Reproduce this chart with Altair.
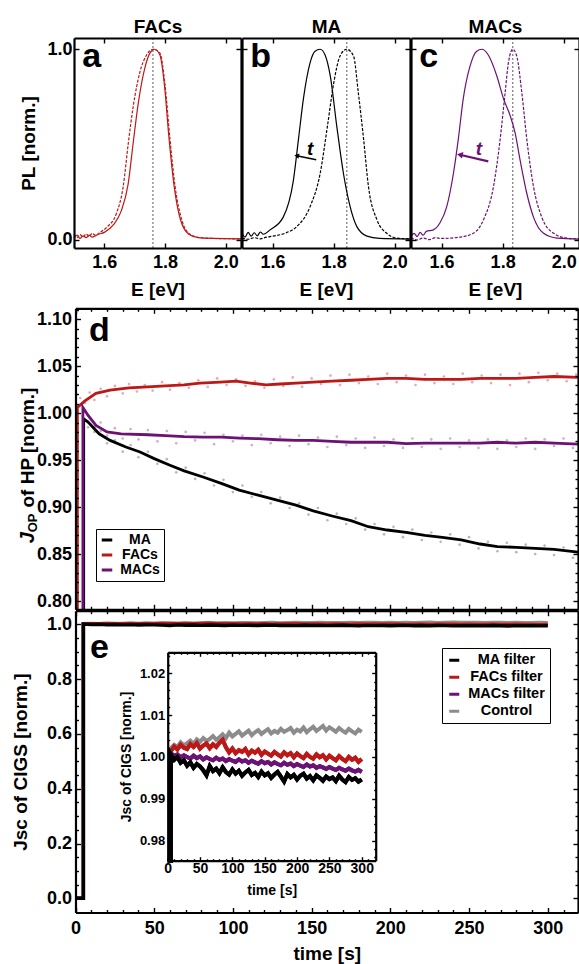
import altair as alt
import pandas as pd

W, H = 579, 964
FONT = "Liberation Sans"
RED = "#bd1818"
PURPLE = "#6c1274"
GREY = "#8c8c8c"

# ---------------- panels a-c : PL spectra ----------------
PANEL_TITLES = ["FACs", "MA", "MACs"]
TOP_LETTERS = ["a", "b", "c"]
E_TICKS = [1.6, 1.8, 2.0]
PL_TICKS = [0.0, 1.0]
PEAK_E = [1.76, 1.843, 1.833]

a_dash_E = [1.50, 1.51, 1.52, 1.53, 1.54, 1.55, 1.56, 1.57, 1.586, 1.61, 1.64, 1.662, 1.679, 1.695,
            1.717, 1.739, 1.761, 1.783, 1.80, 1.816, 1.833, 1.855, 1.882, 1.915, 1.96, 2.05]
a_dash_PL = [0.030, 0.012, 0.028, 0.015, 0.032, 0.018, 0.035, 0.025, 0.04, 0.07, 0.14, 0.28, 0.51, 0.70,
             0.88, 0.97, 1.0, 0.98, 0.81, 0.53, 0.28, 0.105, 0.03, 0.012, 0.008, 0.006]
a_solid_E = [1.50, 1.51, 1.52, 1.53, 1.54, 1.55, 1.56, 1.58, 1.60, 1.63, 1.655, 1.678, 1.695, 1.711,
             1.733, 1.75, 1.765, 1.783, 1.798, 1.812, 1.83, 1.85, 1.878, 1.91, 1.96, 2.05]
a_solid_PL = [0.010, 0.025, 0.008, 0.022, 0.012, 0.026, 0.015, 0.03, 0.04, 0.08, 0.15, 0.29, 0.51, 0.71,
              0.90, 0.98, 1.0, 0.97, 0.81, 0.55, 0.28, 0.11, 0.03, 0.012, 0.008, 0.006]
b_dash_E = [1.50, 1.52, 1.54, 1.56, 1.58, 1.60, 1.64, 1.679, 1.723, 1.756, 1.78, 1.80, 1.821, 1.843,
            1.865, 1.881, 1.898, 1.914, 1.942, 1.974, 2.007, 2.05]
b_dash_PL = [0.010, 0.004, 0.012, 0.006, 0.015, 0.02, 0.035, 0.07, 0.175, 0.35, 0.60, 0.82, 0.965, 1.0,
             0.965, 0.77, 0.53, 0.28, 0.105, 0.035, 0.01, 0.006]
b_solid_E = [1.50, 1.51, 1.52, 1.53, 1.54, 1.55, 1.56, 1.57, 1.592, 1.635, 1.668, 1.685, 1.701, 1.723,
             1.739, 1.756, 1.772, 1.789, 1.81, 1.832, 1.854, 1.876, 1.909, 1.95, 2.05]
b_solid_PL = [0.035, 0.015, 0.04, 0.02, 0.038, 0.022, 0.042, 0.03, 0.053, 0.12, 0.31, 0.53, 0.74, 0.93,
              0.99, 1.0, 0.97, 0.86, 0.60, 0.35, 0.175, 0.07, 0.02, 0.008, 0.005]
c_dash_E = [1.50, 1.52, 1.54, 1.56, 1.58, 1.60, 1.66, 1.704, 1.737, 1.77, 1.792, 1.808, 1.819, 1.833,
            1.846, 1.863, 1.879, 1.901, 1.928, 1.967, 2.01, 2.05]
c_dash_PL = [0.012, 0.0, 0.01, 0.002, 0.012, 0.008, 0.015, 0.035, 0.105, 0.28, 0.53, 0.77, 0.93, 1.0,
             0.965, 0.77, 0.53, 0.28, 0.12, 0.035, 0.01, 0.006]
c_solid_E = [1.50, 1.51, 1.52, 1.53, 1.54, 1.55, 1.573, 1.595, 1.617, 1.639, 1.655, 1.671, 1.693, 1.715,
             1.732, 1.753, 1.781, 1.803, 1.825, 1.841, 1.857, 1.879, 1.901, 1.934, 1.978, 2.05]
c_solid_PL = [0.02, 0.035, 0.018, 0.04, 0.025, 0.045, 0.053, 0.09, 0.175, 0.35, 0.53, 0.74, 0.91, 0.99,
              1.0, 0.97, 0.86, 0.74, 0.65, 0.56, 0.42, 0.245, 0.12, 0.035, 0.01, 0.005]

ARROW_E = {1: [1.743, 1.679], 2: [1.753, 1.66]}
ARROW_PL = {1: [0.421, 0.442], 2: [0.412, 0.447]}
T_LABEL_E = {1: 1.723, 2: 1.722}
T_LABEL_PL = 0.477

# ---------------- panel d : J_OP of HP ----------------
D_SERIES = ["MA", "FACs", "MACs"]
d_red_t = [1.2, 1.2, 6, 13, 22, 34, 46, 57, 69, 79, 92, 102, 111, 121, 130, 140, 151, 163, 175, 186,
           198, 210, 222, 233, 245, 257, 268, 280, 292, 304, 319.2]
d_red_v = [0.70, 1.006, 1.013, 1.021, 1.0245, 1.027, 1.028, 1.029, 1.030, 1.032, 1.033, 1.034, 1.032,
           1.030, 1.031, 1.032, 1.033, 1.034, 1.035, 1.036, 1.037, 1.037, 1.036, 1.036, 1.036, 1.037,
           1.037, 1.037, 1.038, 1.039, 1.038]
d_pur_t = [4.7, 4.7, 8, 13, 20, 29, 46, 57, 69, 81, 93, 104, 116, 128, 140, 151, 163, 175, 186, 198,
           210, 222, 233, 245, 257, 268, 280, 292, 304, 319.2]
d_pur_v = [0.70, 1.006, 0.9975, 0.987, 0.980, 0.978, 0.977, 0.976, 0.975, 0.9745, 0.9745, 0.9735,
           0.9728, 0.9717, 0.971, 0.971, 0.970, 0.969, 0.969, 0.969, 0.9675, 0.968, 0.968, 0.968,
           0.968, 0.969, 0.968, 0.969, 0.968, 0.967]
d_blk_t = [5.2, 5.2, 8, 15, 22, 32, 41, 50, 60, 69, 81, 93, 104, 116, 128, 140, 151, 163, 175, 186,
           198, 210, 222, 233, 245, 257, 268, 280, 292, 304, 319.2]
d_blk_v = [0.70, 0.994, 0.9904, 0.978, 0.971, 0.964, 0.9586, 0.9516, 0.9445, 0.9385, 0.932, 0.925,
           0.918, 0.9127, 0.9074, 0.902, 0.896, 0.8905, 0.8855, 0.8791, 0.8756, 0.873, 0.870, 0.8678,
           0.865, 0.8607, 0.8579, 0.8572, 0.856, 0.855, 0.852]

dot_red_t = [3, 6, 9, 12, 16, 20, 25, 30, 34, 39, 44, 49, 55, 60, 66, 72, 78, 84, 90, 96,
             102, 108, 114, 120, 126, 132, 138, 144, 150, 156, 162, 168, 174, 180, 186, 192, 198, 204,
             210, 216, 222, 228, 234, 240, 246, 252, 258, 264, 270, 276, 282, 288, 294, 300, 306, 312, 318]
dot_red_v = [1.016, 1.011, 1.022, 1.014, 1.026, 1.018, 1.029, 1.021, 1.031, 1.023,
             1.030, 1.024, 1.033, 1.025, 1.032, 1.027, 1.035, 1.028, 1.037, 1.030,
             1.036, 1.029, 1.034, 1.027, 1.036, 1.029, 1.038, 1.028, 1.037, 1.031,
             1.040, 1.030, 1.041, 1.032, 1.039, 1.031, 1.042, 1.033, 1.040, 1.030,
             1.041, 1.032, 1.039, 1.031, 1.042, 1.033, 1.040, 1.032, 1.041, 1.030,
             1.042, 1.033, 1.043, 1.035, 1.042, 1.034, 1.041]
dot_t = [8, 12, 16, 20, 25, 30, 35, 40, 46, 52, 58, 64, 70, 76, 82, 88, 94, 100, 106, 112,
         118, 124, 130, 136, 142, 148, 154, 160, 166, 172, 178, 184, 190, 196, 202, 208, 214, 220,
         226, 232, 238, 244, 250, 256, 262, 268, 274, 280, 286, 292, 298, 304, 310, 316]
dot_pur_v = [0.998, 0.985, 0.990, 0.976, 0.984, 0.973, 0.983, 0.972, 0.982, 0.970,
             0.981, 0.968, 0.980, 0.971, 0.979, 0.967, 0.977, 0.970, 0.976, 0.966,
             0.977, 0.968, 0.975, 0.965, 0.976, 0.967, 0.974, 0.964, 0.975, 0.966,
             0.973, 0.963, 0.974, 0.965, 0.972, 0.963, 0.973, 0.964, 0.972, 0.962,
             0.973, 0.964, 0.971, 0.963, 0.972, 0.962, 0.971, 0.964, 0.973, 0.962,
             0.972, 0.965, 0.973, 0.963]
dot_blk_v = [0.985, 0.980, 0.981, 0.968, 0.971, 0.959, 0.966, 0.953, 0.959, 0.946,
             0.951, 0.937, 0.942, 0.930, 0.936, 0.923, 0.929, 0.916, 0.923, 0.911,
             0.916, 0.904, 0.910, 0.899, 0.904, 0.892, 0.899, 0.886, 0.893, 0.882,
             0.888, 0.876, 0.882, 0.871, 0.879, 0.868, 0.876, 0.865, 0.873, 0.863,
             0.871, 0.860, 0.868, 0.856, 0.863, 0.853, 0.862, 0.852, 0.860, 0.850,
             0.859, 0.849, 0.857, 0.846]

# ---------------- panel e : Jsc of CIGS ----------------
E_SERIES = ["MA filter", "FACs filter", "MACs filter", "Control"]
e_t = list(range(5, 301, 5))
e_control = [1.0021, 1.0029, 1.0024, 1.0035, 1.0028, 1.0033, 1.0039, 1.0031, 1.0042, 1.0036,
             1.0045, 1.0038, 1.0043, 1.0050, 1.0041, 1.0047, 1.0054, 1.0045, 1.0058, 1.0049,
             1.0055, 1.0061, 1.0051, 1.0057, 1.0063, 1.0052, 1.0059, 1.0064, 1.0055, 1.0061,
             1.0066, 1.0056, 1.0062, 1.0058, 1.0067, 1.0060, 1.0064, 1.0069, 1.0058, 1.0065,
             1.0061, 1.0070, 1.0059, 1.0066, 1.0072, 1.0062, 1.0068, 1.0074, 1.0063, 1.0071,
             1.0066, 1.0060, 1.0069, 1.0063, 1.0058, 1.0067, 1.0061, 1.0056, 1.0065, 1.0060]
e_facs = [1.0014, 1.0025, 1.0018, 1.0029, 1.0022, 1.0019, 1.0031, 1.0024, 1.0033, 1.0020,
          1.0027, 1.0032, 1.0021, 1.0030, 1.0024, 1.0034, 1.0041, 1.0023, 1.0011, 1.0020,
          1.0009, 1.0016, 1.0012, 1.0019, 1.0006, 1.0015, 1.0010, 1.0017, 1.0005, 1.0013,
          1.0008, 1.0003, 1.0012, 1.0006, 1.0001, 1.0011, 1.0004, 1.0009, 0.9999, 1.0008,
          1.0002, 0.9997, 1.0007, 1.0000, 0.9996, 1.0006, 0.9999, 1.0004, 0.9994, 1.0003,
          0.9997, 0.9992, 1.0002, 0.9995, 0.9990, 1.0000, 0.9993, 0.9998, 0.9988, 0.9995]
e_macs = [1.0009, 1.0002, 1.0006, 0.9999, 1.0004, 1.0000, 0.9996, 1.0003, 0.9997, 1.0001,
          0.9994, 0.9999, 0.9995, 0.9992, 0.9998, 0.9993, 0.9996, 0.9990, 0.9995, 0.9991,
          0.9988, 0.9994, 0.9989, 0.9992, 0.9986, 0.9991, 0.9987, 0.9984, 0.9990, 0.9985,
          0.9988, 0.9982, 0.9987, 0.9983, 0.9980, 0.9986, 0.9981, 0.9984, 0.9978, 0.9983,
          0.9979, 0.9976, 0.9982, 0.9977, 0.9980, 0.9974, 0.9978, 0.9975, 0.9971, 0.9976,
          0.9972, 0.9969, 0.9974, 0.9970, 0.9967, 0.9972, 0.9968, 0.9965, 0.9969, 0.9964]
e_ma = [1.0006, 0.9993, 1.0000, 0.9986, 0.9992, 0.9979, 0.9987, 0.9974, 0.9983, 0.9977,
        0.9968, 0.9956, 0.9978, 0.9966, 0.9972, 0.9961, 0.9975, 0.9964, 0.9958, 0.9970,
        0.9960, 0.9967, 0.9955, 0.9963, 0.9969, 0.9957, 0.9962, 0.9952, 0.9965, 0.9956,
        0.9961, 0.9950, 0.9958, 0.9964, 0.9953, 0.9941, 0.9959, 0.9951, 0.9957, 0.9946,
        0.9955, 0.9960, 0.9948, 0.9954, 0.9944, 0.9956, 0.9950, 0.9943, 0.9953, 0.9947,
        0.9951, 0.9942, 0.9955, 0.9946, 0.9940, 0.9952, 0.9945, 0.9949, 0.9941, 0.9946]
e_step_t = [0, 5]
e_step_v = [0.0, 0.0]

# ---------------- ticks ----------------
T_MAJ = [0, 50, 100, 150, 200, 250, 300]
T_MIN = [v for v in range(10, 320, 10) if v % 50]
D_MAJ = [0.80, 0.85, 0.90, 0.95, 1.00, 1.05, 1.10]
D_MIN = [round(0.80 + 0.01 * k, 2) for k in range(0, 32) if k % 5]
J_MAJ = [0.0, 0.2, 0.4, 0.6, 0.8, 1.0]
J_MIN = [round(0.05 * k, 2) for k in range(1, 21) if k % 4]
I_MAJ = [0.98, 0.99, 1.00, 1.01, 1.02]
I_MIN = [round(0.976 + 0.002 * k, 3) for k in range(0, 25) if round(0.976 + 0.002 * k, 3) not in I_MAJ]

# ---------------- geometry (pixel ranges of each frame) ----------------
E_DOM, PL_DOM = (1.5, 2.05), (-0.042, 1.059)
TOP_X = [(74, 241), (242, 410), (411, 579)]
TOP_Y = (248, 38)
T_DOM, T_RNG = (0, 319.2), (75.5, 578)
D_DOM, D_RNG = (0.7912, 1.1116), (609.3, 308.3)
J_DOM, J_RNG = (-0.0518, 1.0496), (912.5, 610.7)
IT_DOM, IT_RNG = (0, 321.6), (167.7, 375.7)
IY_DOM, IY_RNG = (0.9752, 1.025), (860.7, 652.3)


def S(dom, rng, clamp=False):
    kw = dict(domain=list(dom), range=list(rng), nice=False, zero=False)
    if clamp:
        kw["clamp"] = True
    return alt.Scale(**kw)


def axis(orient, offset, values, labels=False, fmt=None, title=None, tick=5, tick_w=1.4,
         domain=True, lsize=18, tsize=19, gap=2, tpad=6):
    kw = dict(orient=orient, offset=offset, values=values, labels=labels, grid=False,
              domain=domain, domainColor="black", domainWidth=2.2,
              ticks=True, tickColor="black", tickWidth=tick_w, tickSize={"expr": str(-tick)},
              labelFont=FONT, labelFontSize=lsize, labelFontWeight="bold", labelColor="black",
              labelPadding=gap + tick, labelFlush=False, labelOverlap=False,
              titleFont=FONT, titleFontSize=tsize, titleFontWeight="bold", titleColor="black",
              titlePadding=tpad, title=title, zindex=2)
    if fmt:
        kw["format"] = fmt
    return alt.Axis(**kw)


def frame(xd, yd, xr, yr, bottom=None, left=None, top=None, right=None):
    df = pd.DataFrame({"x": list(xd), "y": list(yd)})
    xs, ys = S(xd, xr), S(yd, yr)
    offs = {"bottom": yr[0] - H, "top": -yr[1], "left": -xr[0], "right": xr[1] - W}
    out = []
    for xa, xo, ya, yo in [(bottom, "bottom", left, "left"), (top, "top", right, "right")]:
        if xa is None and ya is None:
            continue
        out.append(alt.Chart(df).mark_point(opacity=0).encode(
            x=alt.X("x:Q", scale=xs, axis=axis(xo, offs[xo], **xa) if xa is not None else None),
            y=alt.Y("y:Q", scale=ys, axis=axis(yo, offs[yo], **ya) if ya is not None else None)))
    return out


layers = []

# ================= top row =================
curves = [[(a_dash_E, a_dash_PL, True), (a_solid_E, a_solid_PL, False)],
          [(b_dash_E, b_dash_PL, True), (b_solid_E, b_solid_PL, False)],
          [(c_dash_E, c_dash_PL, True), (c_solid_E, c_solid_PL, False)]]
top_colors = [RED, "black", PURPLE]

for k in range(3):
    xs, ys = S(E_DOM, TOP_X[k]), S(PL_DOM, TOP_Y)
    X = lambda f: alt.X(f, scale=xs, axis=None)
    Y = lambda f: alt.Y(f, scale=ys, axis=None)
    layers.append(alt.Chart(pd.DataFrame({"E": [PEAK_E[k]], "lo": [PL_DOM[0]], "hi": [PL_DOM[1]]}))
                  .mark_rule(color="#8a8a8a", strokeDash=[2, 2], strokeWidth=1.4)
                  .encode(x=X("E:Q"), y=Y("lo:Q"), y2="hi:Q"))
    for E, P, dashed in curves[k]:
        kw = dict(color=top_colors[k], strokeWidth=1.2, interpolate="monotone")
        if dashed:
            kw["strokeDash"] = [3, 1.5]
        layers.append(alt.Chart(pd.DataFrame({"E": E, "PL": P})).mark_line(**kw)
                      .encode(x=X("E:Q"), y=Y("PL:Q")))
    layers.append(alt.Chart(pd.DataFrame({"E": [1.527], "v": [0.905], "s": [TOP_LETTERS[k]]}))
                  .mark_text(font=FONT, fontSize=34, fontWeight="bold", align="left",
                             baseline="alphabetic", color="black")
                  .encode(x=X("E:Q"), y=Y("v:Q"), text="s:N"))
    if k in ARROW_E:
        col = top_colors[k]
        layers.append(alt.Chart(pd.DataFrame({"E": ARROW_E[k], "v": ARROW_PL[k]}))
                      .mark_line(color=col, strokeWidth=1.5 if k == 1 else 2.2)
                      .encode(x=X("E:Q"), y=Y("v:Q")))
        layers.append(alt.Chart(pd.DataFrame({"E": [ARROW_E[k][1]], "v": [ARROW_PL[k][1]]}))
                      .mark_point(shape="triangle-left", filled=True, size=30 if k == 1 else 45,
                                  angle=12, color=col, opacity=1)
                      .encode(x=X("E:Q"), y=Y("v:Q")))
        layers.append(alt.Chart(pd.DataFrame({"E": [T_LABEL_E[k]], "v": [T_LABEL_PL], "s": ["t"]}))
                      .mark_text(font=FONT, fontSize=19, fontWeight="bold", fontStyle="italic",
                                 color=col, align="center", baseline="middle")
                      .encode(x=X("E:Q"), y=Y("v:Q"), text="s:N"))
    left = (dict(values=PL_TICKS, labels=True, fmt=".1f", title="PL [norm.]", tpad=8)
            if k == 0 else dict(values=PL_TICKS))
    layers += frame(E_DOM, PL_DOM, TOP_X[k], TOP_Y,
                    bottom=dict(values=E_TICKS, labels=True, fmt=".1f", title="E [eV]", gap=5, tpad=9),
                    left=left,
                    top=dict(values=E_TICKS, title=PANEL_TITLES[k], tpad=1),
                    right=dict(values=PL_TICKS))

# ================= panel d =================
xs, ys = S(T_DOM, T_RNG), S(D_DOM, D_RNG, clamp=True)
dots = pd.concat([
    pd.DataFrame({"t": dot_t, "v": dot_blk_v, "s": "MA"}),
    pd.DataFrame({"t": dot_red_t, "v": dot_red_v, "s": "FACs"}),
    pd.DataFrame({"t": dot_t, "v": dot_pur_v, "s": "MACs"}),
])
layers.append(alt.Chart(dots).mark_circle(size=7, opacity=1).encode(
    x=alt.X("t:Q", scale=xs, axis=None), y=alt.Y("v:Q", scale=ys, axis=None),
    color=alt.Color("s:N", scale=alt.Scale(domain=D_SERIES, range=["#b8b8b8", "#eba9a9", "#d2acd8"]),
                    legend=None)))
dl = []
for name, tt, vv in [("MA", d_blk_t, d_blk_v), ("FACs", d_red_t, d_red_v), ("MACs", d_pur_t, d_pur_v)]:
    dl.append(pd.DataFrame({"t": tt, "v": vv, "s": name, "i": list(range(len(tt)))}))
legend_kw = dict(orient="none", title=None, strokeColor="black", fillColor="white",
                 labelFont=FONT, labelFontWeight="bold", labelColor="black", labelAlign="center",
                 symbolType="stroke", symbolStrokeWidth=3)
layers.append(alt.Chart(pd.concat(dl)).mark_line(strokeWidth=2.8).encode(
    x=alt.X("t:Q", scale=xs, axis=None), y=alt.Y("v:Q", scale=ys, axis=None),
    order="i:Q",
    color=alt.Color("s:N", scale=alt.Scale(domain=D_SERIES, range=["black", RED, PURPLE]),
                    legend=alt.Legend(legendX=96, legendY=529, padding=4, rowPadding=1,
                                      labelFontSize=14, labelOffset=26, symbolSize=110, **legend_kw))))
# panel-d letter and y title
xs_free, ys_free = S(T_DOM, T_RNG), S(D_DOM, D_RNG)
layers.append(alt.Chart(pd.DataFrame({"t": [8.6], "v": [1.077], "s": ["d"]}))
              .mark_text(font=FONT, fontSize=34, fontWeight="bold", align="left", baseline="alphabetic")
              .encode(x=alt.X("t:Q", scale=xs_free, axis=None), y=alt.Y("v:Q", scale=ys_free, axis=None),
                      text="s:N"))
layers.append(alt.Chart(pd.DataFrame({"t": [-30.2], "v": [0.8614], "s": ["J"]}))
              .mark_text(font=FONT, fontSize=20, fontWeight="bold", fontStyle="italic", angle=270,
                         align="left", baseline="middle")
              .encode(x=alt.X("t:Q", scale=xs_free, axis=None), y=alt.Y("v:Q", scale=ys_free, axis=None),
                      text="s:N"))
layers.append(alt.Chart(pd.DataFrame({"t": [-26.8], "v": [0.8731], "s": ["OP"]}))
              .mark_text(font=FONT, fontSize=13, fontWeight="bold", angle=270,
                         align="left", baseline="middle")
              .encode(x=alt.X("t:Q", scale=xs_free, axis=None), y=alt.Y("v:Q", scale=ys_free, axis=None),
                      text="s:N"))
layers.append(alt.Chart(pd.DataFrame({"t": [-30.2], "v": [0.8995], "s": ["of HP [norm.]"]}))
              .mark_text(font=FONT, fontSize=19, fontWeight="bold", angle=270,
                         align="left", baseline="middle")
              .encode(x=alt.X("t:Q", scale=xs_free, axis=None), y=alt.Y("v:Q", scale=ys_free, axis=None),
                      text="s:N"))
layers += frame(T_DOM, D_DOM, T_RNG, D_RNG,
                bottom=dict(values=T_MAJ), left=dict(values=D_MAJ, labels=True, fmt=".2f", gap=4),
                top=dict(values=T_MAJ), right=dict(values=D_MAJ))
layers += frame(T_DOM, D_DOM, T_RNG, D_RNG,
                bottom=dict(values=T_MIN, tick=3, domain=False), left=dict(values=D_MIN, tick=3, domain=False),
                top=dict(values=T_MIN, tick=3, domain=False), right=dict(values=D_MIN, tick=3, domain=False))

# ================= panel e =================
series_vals = {"MA filter": e_ma, "FACs filter": e_facs, "MACs filter": e_macs, "Control": e_control}
series_col = {"MA filter": "black", "FACs filter": RED, "MACs filter": PURPLE, "Control": GREY}


def e_df(name):
    tt = e_step_t + e_t
    vv = e_step_v + series_vals[name]
    return pd.DataFrame({"t": tt, "v": vv, "s": name, "i": list(range(len(tt)))})


xs, ys = S(T_DOM, T_RNG), S(J_DOM, J_RNG)
for name in ["Control", "MACs filter", "FACs filter", "MA filter"]:
    layers.append(alt.Chart(e_df(name)).mark_line(color=series_col[name], strokeWidth=3.4).encode(
        x=alt.X("t:Q", scale=xs, axis=None), y=alt.Y("v:Q", scale=ys, axis=None), order="i:Q"))
layers.append(alt.Chart(pd.DataFrame({"t": [9.2], "v": [0.876], "s": ["e"]}))
              .mark_text(font=FONT, fontSize=34, fontWeight="bold", align="left", baseline="alphabetic")
              .encode(x=alt.X("t:Q", scale=xs, axis=None), y=alt.Y("v:Q", scale=ys, axis=None), text="s:N"))
layers += frame(T_DOM, J_DOM, T_RNG, J_RNG,
                bottom=dict(values=T_MAJ, labels=True, fmt="d", title="time [s]", gap=7, tpad=7),
                left=dict(values=J_MAJ, labels=True, fmt=".1f", title="Jsc of CIGS [norm.]", gap=4, tpad=16),
                top=dict(values=T_MAJ), right=dict(values=J_MAJ))
layers += frame(T_DOM, J_DOM, T_RNG, J_RNG,
                bottom=dict(values=T_MIN, tick=3, domain=False), left=dict(values=J_MIN, tick=3, domain=False),
                top=dict(values=T_MIN, tick=3, domain=False), right=dict(values=J_MIN, tick=3, domain=False))

# ---- inset ----
xs, ys = S(IT_DOM, IT_RNG), S(IY_DOM, IY_RNG, clamp=True)
all_e = pd.concat([e_df(n) for n in ["Control", "MACs filter", "FACs filter", "MA filter"]])
layers.append(alt.Chart(all_e).mark_line(strokeWidth=4).encode(
    x=alt.X("t:Q", scale=xs, axis=None), y=alt.Y("v:Q", scale=ys, axis=None),
    detail="s:N", order="i:Q",
    color=alt.Color("s:N", scale=alt.Scale(domain=E_SERIES, range=["black", RED, PURPLE, GREY]),
                    legend=alt.Legend(legendX=442, legendY=648, padding=5, rowPadding=2,
                                      labelFontSize=14.5, labelOffset=45, symbolSize=100, **legend_kw))))
for name in ["FACs filter", "MACs filter", "MA filter"]:
    layers.append(alt.Chart(e_df(name)).mark_line(color=series_col[name], strokeWidth=4).encode(
        x=alt.X("t:Q", scale=xs, axis=None), y=alt.Y("v:Q", scale=ys, axis=None), order="i:Q"))
layers += frame(IT_DOM, IY_DOM, IT_RNG, IY_RNG,
                bottom=dict(values=T_MAJ, labels=True, fmt="d", title="time [s]", lsize=14, tsize=14,
                            tick=4, gap=1, tpad=8),
                left=dict(values=I_MAJ, labels=True, fmt=".2f", title="Jsc of CIGS [norm.]", lsize=13,
                          tsize=14, tick=4, gap=3, tpad=6),
                top=dict(values=T_MAJ, tick=4), right=dict(values=I_MAJ, tick=4))
layers += frame(IT_DOM, IY_DOM, IT_RNG, IY_RNG,
                bottom=dict(values=T_MIN, tick=2, domain=False), left=dict(values=I_MIN, tick=2, domain=False),
                top=dict(values=T_MIN, tick=2, domain=False), right=dict(values=I_MIN, tick=2, domain=False))

chart = (alt.layer(*layers)
         .resolve_scale(x="independent", y="independent", color="independent")
         .properties(width=W, height=H, padding=0, background="white",
                     autosize=alt.AutoSizeParams(type="none"))
         .configure(font=FONT)
         .configure_view(stroke=None))

chart.save("out.html", embed_options={"renderer": "svg", "actions": False})
